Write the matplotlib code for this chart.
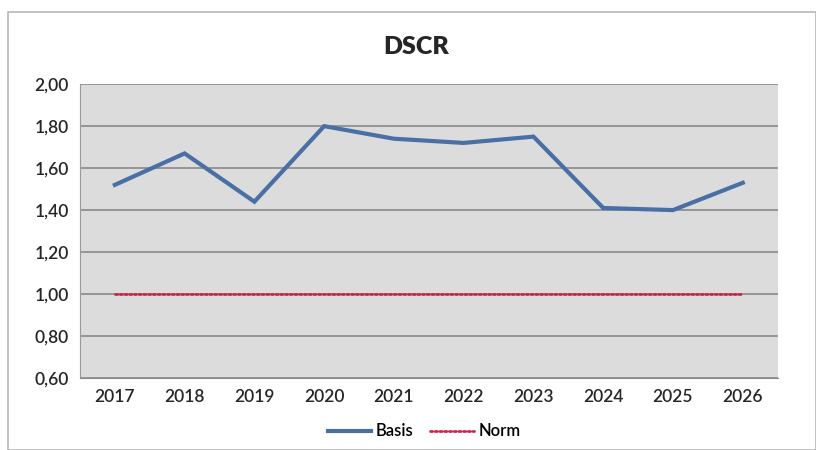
import matplotlib
matplotlib.use('Agg')
import matplotlib.pyplot as plt
from matplotlib.patches import Rectangle
from matplotlib.ticker import FuncFormatter

plt.rcParams['font.family'] = ['Lato', 'DejaVu Sans']

# Data
years = ['2017', '2018', '2019', '2020', '2021', '2022', '2023', '2024', '2025', '2026']
basis = [1.52, 1.67, 1.44, 1.80, 1.74, 1.72, 1.75, 1.41, 1.40, 1.53]
norm = [1.00] * len(years)

fig = plt.figure(figsize=(8.16, 4.5), dpi=100)
fig.patch.set_facecolor('white')

# outer chart frame
fig.patches.append(Rectangle((0.010, 0.0), 0.99, 0.973, transform=fig.transFigure,
                             fill=False, edgecolor='#b8b8b8', linewidth=1.2))

ax = fig.add_axes([0.098, 0.16, 0.855, 0.653])
ax.set_facecolor('#dcdcdc')

x = range(len(years))
ax.plot(x, basis, color='#4a6fa5', linewidth=3, label='Basis', solid_joinstyle='miter')
ax.plot(x, norm, color='#c8284a', linewidth=2, linestyle=(0, (0.8, 0.9)), label='Norm',
        dash_capstyle='round')

ax.set_xlim(-0.5, len(years) - 0.5)
ax.set_ylim(0.60, 2.00)
ax.set_yticks([0.6, 0.8, 1.0, 1.2, 1.4, 1.6, 1.8, 2.0])
ax.yaxis.set_major_formatter(FuncFormatter(lambda v, p: f'{v:.2f}'.replace('.', ',')))
ax.set_xticks(list(x))
ax.set_xticklabels(years)
ax.grid(axis='y', color='#8a8a8a', linewidth=1.2)
ax.set_axisbelow(True)
ax.tick_params(length=0, labelsize=12.5, colors='#262626', pad=8)
for lbl in ax.get_xticklabels() + ax.get_yticklabels():
    lbl.set_fontweight('semibold')
for s in ['top', 'right']:
    ax.spines[s].set_visible(False)
ax.spines['bottom'].set_color('#8a8a8a')
ax.spines['left'].set_color('#9a9a9a')

fig.text(0.51, 0.895, 'DSCR', ha='center', va='center', fontsize=18,
         fontweight='heavy', color='#262626')

leg = fig.legend(loc='lower center', bbox_to_anchor=(0.52, -0.01), ncol=2, frameon=False,
                 fontsize=12, handlelength=2.6, columnspacing=1.0, handletextpad=0.3)
for t in leg.get_texts():
    t.set_fontweight('semibold')

plt.savefig('out.png', dpi=100)
